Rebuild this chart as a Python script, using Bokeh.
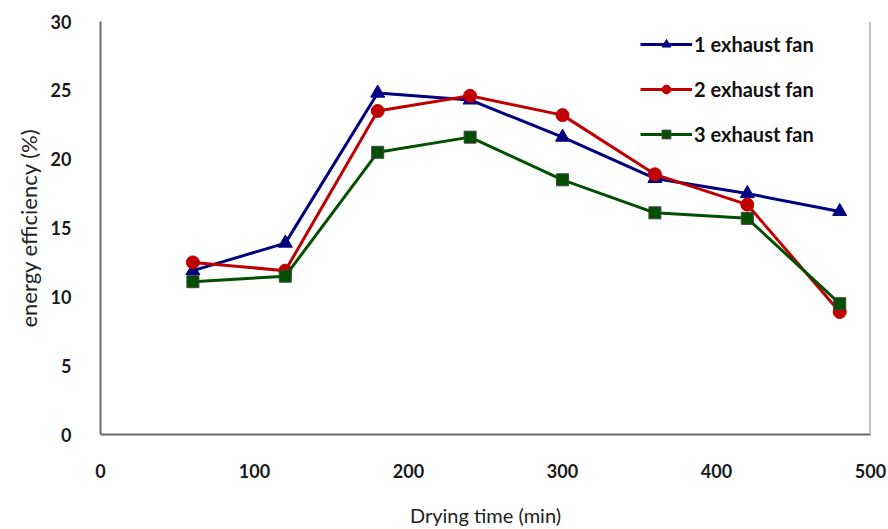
from bokeh.plotting import figure
from bokeh.models import Range1d, Span, Legend, LegendItem, FixedTicker
from bokeh.embed import file_html
from bokeh.resources import INLINE

time_min = [60, 120, 180, 240, 300, 360, 420, 480]
fan1 = [11.9, 13.9, 24.8, 24.3, 21.6, 18.6, 17.5, 16.2]
fan2 = [12.5, 11.9, 23.5, 24.6, 23.2, 18.9, 16.7, 8.9]
fan3 = [11.1, 11.5, 20.5, 21.6, 18.5, 16.1, 15.7, 9.5]
names = ["1 exhaust fan", "2 exhaust fan", "3 exhaust fan"]
x_ticks = [0, 100, 200, 300, 400, 500]
y_ticks = [0, 5, 10, 15, 20, 25, 30]

p = figure(width=888, height=529, output_backend="svg", toolbar_location=None,
           x_range=Range1d(0, 500), y_range=Range1d(0, 30),
           min_border_left=100, min_border_right=18, min_border_top=21, min_border_bottom=94)
p.outline_line_color = None
p.xgrid.grid_line_color = None
p.ygrid.grid_line_color = None
p.background_fill_color = "white"
p.border_fill_color = "white"

for ax in (p.xaxis[0], p.yaxis[0]):
    ax.axis_line_color = "#6b6b6b"
    ax.axis_line_width = 2
    ax.major_tick_line_color = None
    ax.minor_tick_line_color = None
    ax.major_label_text_font = "Lato"
    ax.major_label_text_font_style = "bold"
    ax.major_label_text_font_size = "18px"
    ax.major_label_text_color = "#1a1a1a"
    ax.major_label_standoff = 23
    ax.axis_label_text_font = "Lato"
    ax.axis_label_text_font_style = "normal"
    ax.axis_label_text_color = "#222222"

p.xaxis.ticker = FixedTicker(ticks=x_ticks)
p.yaxis.ticker = FixedTicker(ticks=y_ticks)
p.xaxis.axis_label = "Drying time (min)"
p.yaxis.axis_label = "energy efficiency (%)"
p.xaxis.axis_label_text_font_size = "20px"
p.yaxis.axis_label_text_font_size = "22px"
p.xaxis.axis_label_standoff = 22
p.yaxis.axis_label_standoff = 6

p.add_layout(Span(location=500, dimension="height", line_color="#8a8a8a", line_width=2))

r1l = p.line(time_min, fan1, line_color="#000080", line_width=3)
r1m = p.scatter(time_min, fan1, marker="triangle", size=14, fill_color="#000080", line_color="#000080")
r2l = p.line(time_min, fan2, line_color="#C00000", line_width=3)
r2m = p.scatter(time_min, fan2, marker="circle", size=13, fill_color="#C00000", line_color="#C00000")
r3l = p.line(time_min, fan3, line_color="#005000", line_width=3)
r3m = p.scatter(time_min, fan3, marker="square", size=12, fill_color="#005000", line_color="#404040", line_width=1)

legend = Legend(items=[LegendItem(label=names[0], renderers=[r1l, r1m]),
                       LegendItem(label=names[1], renderers=[r2l, r2m]),
                       LegendItem(label=names[2], renderers=[r3l, r3m])],
                location=(540, 288))
legend.border_line_color = None
legend.background_fill_alpha = 0
legend.glyph_width = 52
legend.glyph_height = 22
legend.label_height = 22
legend.label_standoff = 2
legend.spacing = 21
legend.padding = 10
legend.margin = 0
legend.label_text_font = "Lato"
legend.label_text_font_style = "bold"
legend.label_text_font_size = "20px"
legend.label_text_color = "#111111"
p.add_layout(legend)

open("out.html", "w").write(file_html(p, INLINE))
